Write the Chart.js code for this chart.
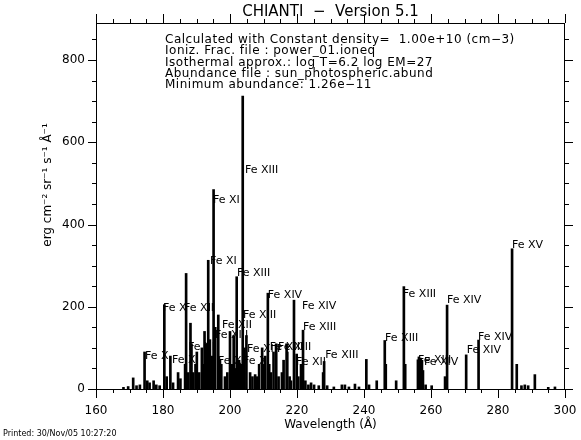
<!DOCTYPE html>
<html lang="en">
<head>
  <meta charset="UTF-8">
  <title>CHIANTI spectrum</title>
  <script src="https://cdn.jsdelivr.net/npm/chart.js"></script>
  <style>
    body {
      margin: 0;
      background: #fff;
    }
    #wrap {
      width: 581px;
      height: 440px;
    }
  </style>
</head>
<body>

<div id="wrap">
  <canvas id="spectrum" width="581" height="440"></canvas>
</div>

<script>
// line positions (Angstrom) and peak intensities
const lineWavelengths = [
  168.2, 169.6, 171.1, 172.1, 173.1, 174.5, 175.3, 176.0, 177.2, 178.0, 179.0,
  180.4, 181.1, 182.2, 183.0, 184.5, 185.2,
  186.6, 186.9, 187.5, 188.2, 188.5, 189.0, 189.7, 190.1, 190.8, 191.6, 192.0,
  192.4, 192.8, 193.5, 194.0, 194.7, 195.1, 195.6, 196.5, 197.0, 197.4, 198.5,
  199.2, 200.0, 200.7, 201.1, 201.7, 202.0, 202.7, 203.2, 203.8, 204.3, 204.9,
  206.0, 206.7, 207.5, 208.0, 208.7, 209.6, 209.9, 210.5, 211.3, 211.7, 212.2,
  213.0, 213.8, 214.5, 215.5, 216.0, 216.9, 217.1, 217.8, 218.2, 219.1, 219.9,
  220.4, 221.2, 221.8, 222.5, 223.4, 224.2, 225.1, 226.5, 227.8, 228.1, 229.0,
  231.0, 233.4, 234.3, 235.5, 237.3, 238.5, 240.7, 241.5, 243.8, 246.2, 246.5,
  249.6, 251.9, 252.3, 256.1, 256.4, 256.9, 257.3, 257.6, 258.4, 260.2, 264.2,
  264.8, 270.5, 274.2, 284.2, 285.6, 287.0, 288.0, 289.0, 291.0, 295.0, 297.0
];
const lineIntensities = [
  4, 6, 27, 8, 10, 90, 20, 15, 20, 10, 8,
  205, 30, 80, 15, 40, 25,
  60, 281, 40, 160, 110, 40, 60, 90, 40, 100, 60,
  140, 110, 313, 120, 80, 485, 150, 180, 70, 60, 30,
  40, 140, 60, 130, 50, 273, 70, 60, 712, 100, 130,
  40, 30, 35, 30, 60, 100, 60, 80, 233, 60, 40,
  90, 110, 30, 40, 70, 110, 90, 30, 20, 216, 85,
  30, 60, 143, 20, 10, 15, 10, 8, 40, 67, 8,
  5, 10, 10, 5, 12, 5, 72, 10, 20, 118, 60,
  20, 249, 60, 71, 78, 75, 70, 45, 10, 8, 30,
  204, 83, 119, 341, 60, 8, 10, 8, 35, 4, 5
];

// ion labels: text, wavelength, intensity of the label anchor
const labelTexts = [
  "Fe XIII", "Fe XI", "Fe XI", "Fe XIII", "Fe XIV", "Fe XIV", "Fe XIII", "Fe XIII",
  "Fe X", "Fe XII", "Fe X", "Fe XI", "Fe XI", "Fe XII", "Fe XIII", "Fe XII",
  "Fe XI", "Fe XIII", "Fe XIII", "Fe XIII", "Fe XII", "Fe XIII", "Fe XIII",
  "Fe XIII", "Fe XIV", "Fe XIII", "Fe XIV", "Fe XIV", "Fe XIV", "Fe XV"
];
const labelWavelengths = [
  204.5, 194.9, 194.0, 202.1, 211.3, 221.5, 203.9, 221.8,
  180.0, 186.3, 174.6, 182.7, 187.5, 197.6, 195.5, 196.4,
  203.9, 205.1, 211.9, 214.3, 219.7, 228.4, 246.3,
  251.6, 264.8, 256.1, 257.9, 270.7, 274.0, 284.2
];
const labelHeights = [
  533, 460, 311, 282, 228, 202, 180, 151,
  197, 197, 81, 71, 103, 155, 131, 68,
  68, 97, 103, 103, 66, 83, 124,
  231, 216, 71, 66, 95, 127, 350
];

const xTickLabels = [160, 180, 200, 220, 240, 260, 280, 300];
const yTickLabels = [0, 200, 400, 600, 800];

const infoLines = [
  "Calculated with Constant density=  1.00e+10 (cm\u22123)",
  "Ioniz. Frac. file : power_01.ioneq",
  "Isothermal approx.: log T=6.2 log EM=27",
  "Abundance file : sun_photospheric.abund",
  "Minimum abundance: 1.26e\u221211"
];

const FONT = '"DejaVu Sans", sans-serif';

const framePlugin = {
  id: 'frame',
  afterDraw(chart) {
    const ctx = chart.ctx;
    const xs = chart.scales.x;
    const ys = chart.scales.y;
    const a = chart.chartArea;
    ctx.save();
    ctx.strokeStyle = '#000';
    ctx.fillStyle = '#000';
    ctx.lineWidth = 1;

    // box
    ctx.strokeRect(a.left + 0.5, a.top + 0.5, a.right - a.left - 1, a.bottom - a.top);

    // x ticks, every 5 A, major every 20 A, outward on bottom and top
    ctx.beginPath();
    for (let w = 160; w <= 300; w += 5) {
      const px = Math.round(xs.getPixelForValue(w)) + 0.5;
      const len = (w % 20 === 0) ? 9 : 4;
      ctx.moveTo(px, a.bottom);
      ctx.lineTo(px, a.bottom + len);
      ctx.moveTo(px, a.top);
      ctx.lineTo(px, a.top - len);
    }
    // y ticks, every 50, major every 200, outward left and right
    for (let v = 0; v <= 850; v += 50) {
      const py = Math.round(ys.getPixelForValue(v)) + 0.5;
      const len = (v % 200 === 0) ? 8 : 4;
      ctx.moveTo(a.left, py);
      ctx.lineTo(a.left - len, py);
      ctx.moveTo(a.right, py);
      ctx.lineTo(a.right + len, py);
    }
    ctx.stroke();

    // tick labels
    ctx.font = '12px ' + FONT;
    ctx.textAlign = 'center';
    ctx.textBaseline = 'middle';
    xTickLabels.forEach(w => {
      ctx.fillText(String(w), xs.getPixelForValue(w), 411);
    });
    ctx.textAlign = 'right';
    yTickLabels.forEach(v => {
      ctx.fillText(String(v), a.left - 11, ys.getPixelForValue(v));
    });

    // axis titles
    ctx.textAlign = 'center';
    ctx.fillText('Wavelength (\u00c5)', (a.left + a.right) / 2, 425);
    ctx.save();
    ctx.translate(48, 185);
    ctx.rotate(-Math.PI / 2);
    ctx.fillText('erg cm\u207b\u00b2 sr\u207b\u00b9 s\u207b\u00b9 \u00c5\u207b\u00b9', 0, 0);
    ctx.restore();

    // title
    ctx.font = '15px ' + FONT;
    ctx.fillText('CHIANTI  \u2212  Version 5.1', (a.left + a.right) / 2, 12);

    // info block
    ctx.font = '12px ' + FONT;
    ctx.letterSpacing = '0.5px';
    ctx.textAlign = 'left';
    infoLines.forEach((t, i) => {
      ctx.fillText(t, 165, 40 + i * 11.3);
    });
    ctx.letterSpacing = '0px';

    // ion labels
    ctx.font = '11px ' + FONT;
    labelTexts.forEach((t, i) => {
      ctx.fillText(t, xs.getPixelForValue(labelWavelengths[i]), ys.getPixelForValue(labelHeights[i]));
    });

    // footer
    ctx.font = '8px ' + FONT;
    ctx.fillText('Printed: 30/Nov/05 10:27:20', 3, 434);
    ctx.restore();
  }
};

new Chart(document.getElementById('spectrum'), {
  type: 'bar',
  data: {
    datasets: [{
      data: lineWavelengths.map((w, i) => ({ x: w, y: lineIntensities[i] })),
      backgroundColor: '#000',
      borderWidth: 0,
      barThickness: 2
    }]
  },
  options: {
    responsive: false,
    animation: false,
    devicePixelRatio: 1,
    layout: { padding: { left: 96, right: 16, top: 23, bottom: 51 } },
    plugins: {
      legend: { display: false },
      tooltip: { enabled: false }
    },
    scales: {
      x: { type: 'linear', min: 160, max: 300, offset: false, display: false },
      y: { min: 0, max: 890, display: false }
    }
  },
  plugins: [framePlugin]
});
</script>

</body>
</html>
